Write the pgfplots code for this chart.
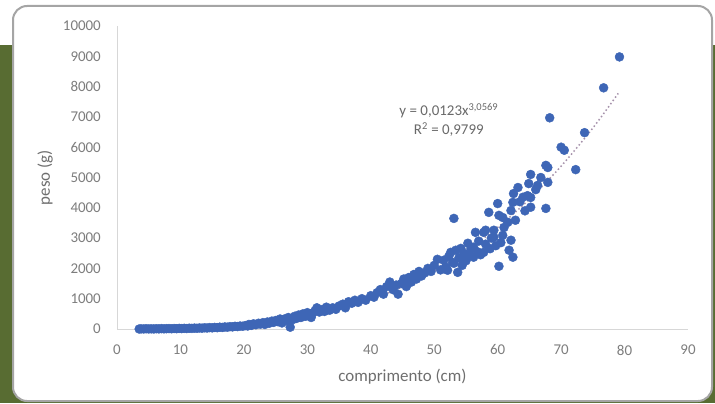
\documentclass[border=0pt]{standalone}
\usepackage{fontspec}
\setmainfont{Carlito}
\usepackage{pgfplots}
\pgfplotsset{compat=1.18}

\definecolor{bggreen}{RGB}{88,108,50}
\definecolor{panelgray}{RGB}{165,165,165}
\definecolor{dotblue}{RGB}{62,102,182}
\definecolor{ticklab}{RGB}{125,125,125}
\definecolor{titlegray}{RGB}{110,110,110}
\definecolor{eqgray}{RGB}{105,105,105}
\definecolor{trend}{RGB}{165,145,170}
\definecolor{axisgray}{RGB}{215,215,215}

\begin{document}
\begin{tikzpicture}[x=1bp,y=1bp]
% background and card
\fill[bggreen] (0,0) rectangle (715,358);
\draw[panelgray, line width=2bp, fill=white, rounded corners=14bp] (13,2) rectangle (712,397);

\begin{axis}[
  at={(117bp,74bp)}, anchor=south west,
  scale only axis, width=571bp, height=303bp,
  xmin=0, xmax=90, ymin=0, ymax=10000,
  xtick={0,10,...,90}, ytick={0,1000,...,10000},
  scaled ticks=false,
  axis lines=left,
  axis line style={-, draw=axisgray, line width=1bp},
  major tick length=0pt,
  clip=false,
  tick label style={font=\fontsize{15}{18}\selectfont, text=ticklab},
  /pgf/number format/assume math mode=true,
  /pgf/number format/1000 sep={},
  xticklabel style={anchor=center, inner sep=0pt, yshift=-21bp},
  yticklabel style={anchor=east, inner sep=0pt, xshift=-16bp},
  xlabel={comprimento (cm)},
  ylabel={peso (g)},
  label style={font=\fontsize{17}{20}\selectfont, text=titlegray},
  xlabel style={at={(axis description cs:0.5,-0.158)}, anchor=center},
  ylabel style={at={(axis description cs:-0.126,0.5)}, anchor=center},
]

\addplot[only marks, mark=*, mark size=4.5bp, color=dotblue,
         mark options={fill=dotblue, draw=dotblue}] table {
x y
3.5 0
3.8 5
4.2 2
4.6 8
5.0 3
5.4 6
5.8 2
6.2 9
6.6 4
7.0 12
7.4 6
7.8 10
8.2 14
8.6 8
9.0 16
9.4 11
9.8 20
10.2 14
10.6 22
11.0 16
11.4 26
11.8 20
12.2 30
12.6 24
13.0 34
13.4 28
13.8 40
14.2 33
14.6 46
15.0 38
15.4 52
15.8 45
16.2 60
16.6 52
17.0 68
17.4 60
17.8 78
18.2 70
18.6 88
19.0 80
19.4 98
19.8 92
20.2 110
20.6 100
20.8 150
21.2 120
21.5 170
21.9 140
22.3 190
22.6 160
23.0 210
23.3 150
23.7 230
24.0 190
24.4 260
24.7 220
25.0 280
25.4 240
25.7 330
26.0 200
26.4 330
26.8 280
27.0 380
27.3 60
27.6 300
28.0 420
28.3 350
28.6 460
29.0 380
29.3 500
29.7 420
30.0 540
30.3 460
30.6 380
30.8 520
31.2 600
31.5 700
31.9 560
32.3 640
32.7 580
33.0 720
33.5 620
34.0 700
34.5 650
35.0 760
35.6 820
36.0 700
36.5 900
37.0 850
37.5 950
38.0 880
38.6 1000
39.2 950
40.0 1100
40.5 1050
41.0 1200
41.5 1300
42.0 1150
42.5 1400
43.0 1550
43.5 1300
44.0 1450
44.3 1150
44.8 1500
45.2 1650
45.6 1400
46.0 1700
46.4 1550
46.8 1800
47.2 1650
47.6 1900
48.0 1750
48.5 1850
49.0 2000
49.5 1900
50.0 2100
50.5 2300
51.0 1950
51.5 2270
51.8 2050
52.1 1940
52.3 2400
52.6 2530
52.9 2200
53.1 2170
53.1 3650
53.4 2600
53.7 1870
53.9 2350
54.2 2660
54.4 2100
54.7 2500
55.0 2250
55.3 2830
55.5 2450
55.8 2650
56.2 2700
56.2 2370
56.5 3190
56.8 2550
57.0 2900
57.3 2450
57.8 2530
57.8 3190
58.1 3260
58.1 2800
58.6 3850
58.8 2650
59.0 3000
59.4 3030
59.4 3260
59.7 2750
60.0 4140
60.2 2070
60.2 3750
60.5 2850
60.8 3090
60.8 3680
61.0 3350
61.6 3520
61.8 2600
62.1 2930
62.1 3910
62.4 2370
62.4 4180
62.5 4470
62.8 3590
63.2 4670
63.5 4200
64.0 4350
64.3 3900
64.7 4400
64.9 4800
65.2 4020
65.2 4340
65.2 5100
66.0 4600
66.3 4740
66.8 5000
67.6 3980
67.6 5400
67.9 4840
67.9 5330
68.2 6970
70.0 6000
70.5 5900
72.3 5260
73.7 6480
76.7 7960
79.2 8980
};

% power trend line y = 0.0123 x^3.0569, tabulated
\addplot[trend, line width=1.5bp, dash pattern=on 1.5bp off 2.5bp, smooth] coordinates {
(3,0.35) (5,1.7) (10,14.0) (15,48.4) (20,116.7) (25,230.8) (30,403.2)
(35,645.8) (40,971.2) (45,1392) (50,1921) (55,2571) (60,3354)
(65,4284) (70,5373) (75,6633) (79,7776)
};

\node[align=center, font=\fontsize{15}{19}\selectfont, text=eqgray]
  at (axis cs:52.3,6910) {y = 0,0123x\textsuperscript{3,0569}\\R\textsuperscript{2} = 0,9799};
\end{axis}
\pgfresetboundingbox
\useasboundingbox (0,0) rectangle (715,403);
\end{tikzpicture}
\end{document}
